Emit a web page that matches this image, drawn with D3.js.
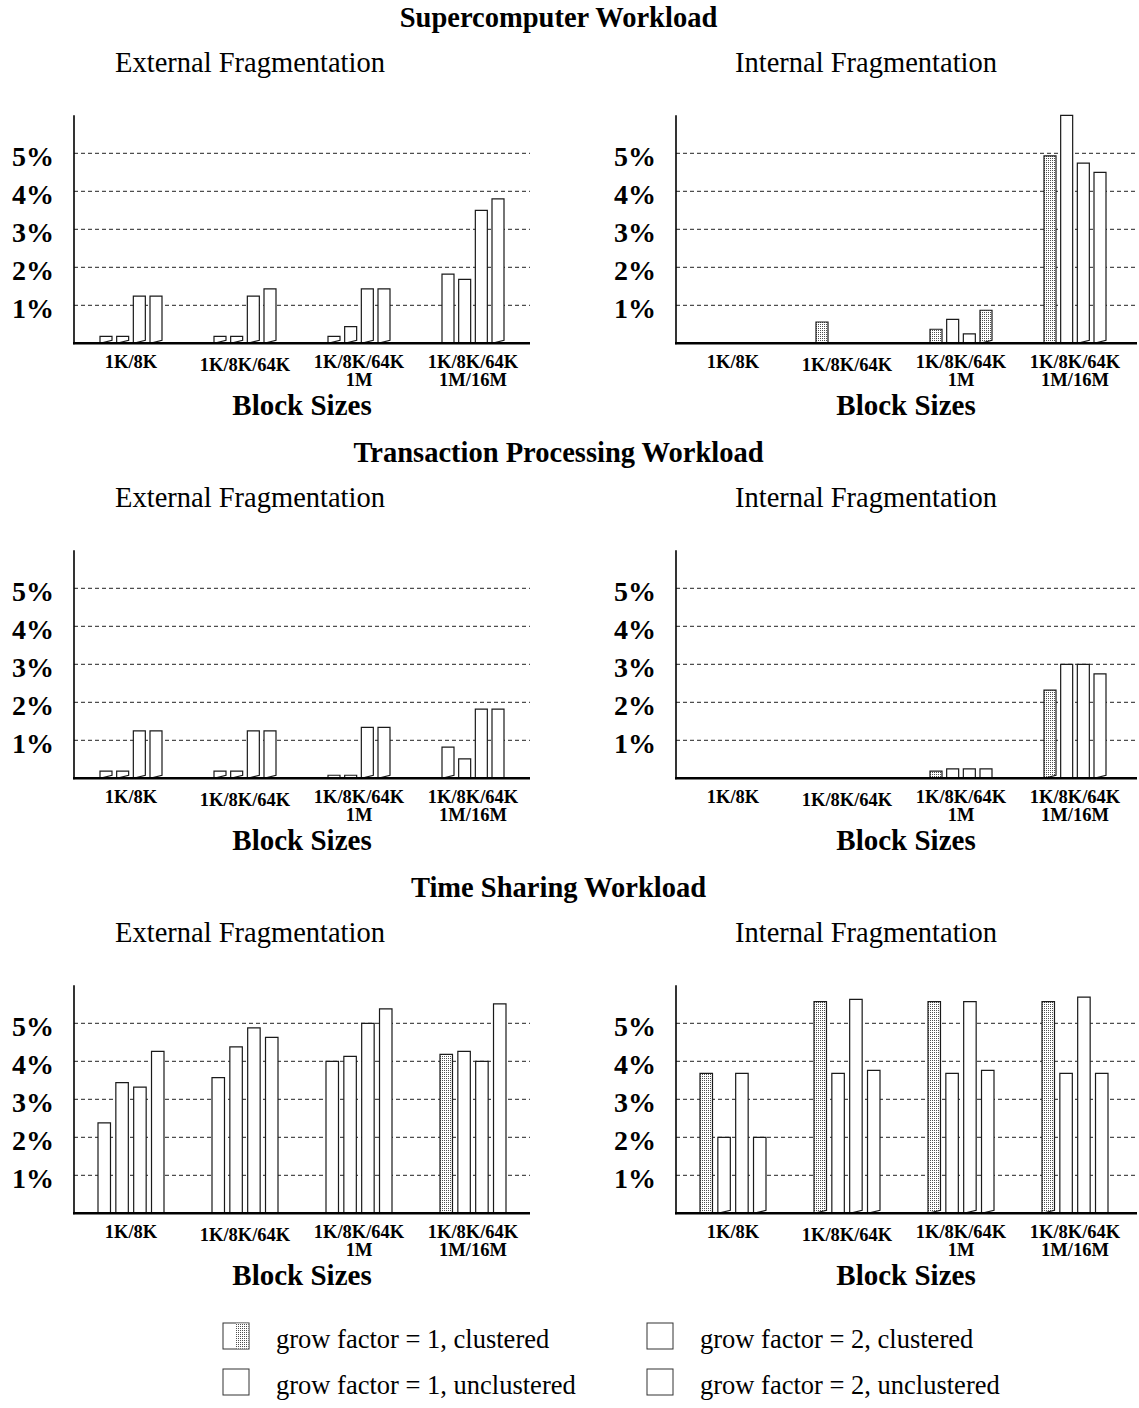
<!DOCTYPE html>
<html><head><meta charset="utf-8">
<script src="https://cdn.jsdelivr.net/npm/d3@7"></script>
<style>body{margin:0;background:#fff} svg{display:block}</style>
</head><body>
<script>
// ---------- data ----------
const categories = [["1K/8K"], ["1K/8K/64K"], ["1K/8K/64K", "1M"], ["1K/8K/64K", "1M/16M"]];
const seriesNames = ["grow factor = 1, clustered", "grow factor = 2, clustered",
                     "grow factor = 1, unclustered", "grow factor = 2, unclustered"];
const yTicks = [1, 2, 3, 4, 5];
const yTickLabels = ["1%", "2%", "3%", "4%", "5%"];
const workloadTitles = ["Supercomputer Workload", "Transaction Processing Workload", "Time Sharing Workload"];
const panelTitles = ["External Fragmentation", "Internal Fragmentation"];
const xAxisTitle = "Block Sizes";

// values in percent, [category][series]
const superExternal = [[0.18, 0.18, 1.24, 1.24], [0.18, 0.18, 1.24, 1.43], [0.18, 0.44, 1.43, 1.43], [1.82, 1.68, 3.50, 3.80]];
const superInternal = [[0, 0, 0, 0], [0.56, 0, 0, 0], [0.37, 0.63, 0.25, 0.87], [4.93, 6.00, 4.74, 4.50]];
const transExternal = [[0.19, 0.19, 1.25, 1.25], [0.19, 0.19, 1.25, 1.25], [0.08, 0.08, 1.34, 1.34], [0.82, 0.51, 1.82, 1.82]];
const transInternal = [[0, 0, 0, 0], [0, 0, 0, 0], [0.19, 0.25, 0.25, 0.25], [2.32, 3.00, 3.00, 2.75]];
const timeExternal  = [[2.38, 3.44, 3.32, 4.26], [3.57, 4.38, 4.88, 4.63], [4.00, 4.13, 5.00, 5.38], [4.18, 4.26, 4.00, 5.51]];
const timeInternal  = [[3.68, 2.00, 3.68, 2.00], [5.57, 3.68, 5.63, 3.76], [5.57, 3.68, 5.57, 3.76], [5.57, 3.68, 5.69, 3.68]];

// ---------- style config (which bars are stippled / have slanted bottoms) ----------
const stippleSpec = [
  [["0000","0000","0000","0000"], ["0000","1000","1001","1000"]],
  [["0000","0000","0000","0000"], ["0000","0000","1000","1000"]],
  [["0000","0000","0000","1000"], ["1000","1000","1000","1000"]]
];
const slantSpec = [
  [["1111","1111","1111","0001"], ["0000","0000","0001","0011"]],
  [["1111","1111","0011","1000"], ["0000","0000","0000","1001"]],
  [["0000","0000","0000","0000"], ["0101","1011","1011","1000"]]
];

const panelData = [[superExternal, superInternal], [transExternal, transInternal], [timeExternal, timeInternal]];

// ---------- drawing ----------
const W = 1139, H = 1408;
const serif = "'Liberation Serif','Times New Roman',Times,serif";
const svg = d3.select("body").append("svg").attr("width", W).attr("height", H)
  .style("font-family", serif);

const defs = svg.append("defs");
const pat = defs.append("pattern").attr("id", "stip").attr("patternUnits", "userSpaceOnUse")
  .attr("width", 2).attr("height", 2);
pat.append("rect").attr("width", 2).attr("height", 2).attr("fill", "#fff");
pat.append("rect").attr("width", 1).attr("height", 1).attr("fill", "#505050");

const rowStep = 435;
const cols = [
  { axisX: 74,  xEnd: 530,  titleX: 250, xTitleX: 302 },
  { axisX: 676, xEnd: 1137, titleX: 866, xTitleX: 906 }
];
const groupSpan = [62, 62, 66];
const catDy = [0, 3, 0, 0];

workloadTitles.forEach((wt, r) => {
  const off = r * rowStep;
  svg.append("text").attr("x", 558.5).attr("y", 27 + off).attr("text-anchor", "middle")
    .attr("font-size", 28.5).attr("font-weight", "bold").text(wt);

  cols.forEach((col, c) => {
    const g = svg.append("g");
    const vals = panelData[r][c];
    const y = d3.scaleLinear().domain([0, 6]).range([343.3 + off, 115.3 + off]);
    const x0 = d3.scaleBand().domain(d3.range(categories.length)).range([col.axisX, col.axisX + 456]);
    const span = groupSpan[r];
    const x1 = d3.scaleBand().domain(d3.range(seriesNames.length)).range([-span / 2, span / 2])
      .paddingInner(r === 2 ? 0.3 : 0.28);

    // panel title
    g.append("text").attr("x", col.titleX).attr("y", 72 + off).attr("text-anchor", "middle")
      .attr("font-size", 28.5).text(panelTitles[c]);

    // gridlines
    g.selectAll(".grid").data(yTicks).enter().append("line")
      .attr("x1", col.axisX).attr("x2", col.xEnd)
      .attr("y1", d => y(d)).attr("y2", d => y(d))
      .attr("stroke", "#222").attr("stroke-width", 1).attr("stroke-dasharray", "4,3");

    // y tick labels through d3 axis
    const yAxis = d3.axisLeft(y).tickValues(yTicks).tickFormat((d, i) => yTickLabels[i])
      .tickSize(0).tickPadding(20);
    const ya = g.append("g").attr("transform", `translate(${col.axisX},0)`).call(yAxis);
    ya.select(".domain").remove();
    ya.selectAll("text").attr("font-family", serif).attr("font-size", 28)
      .attr("font-weight", "bold").attr("fill", "#000").attr("dy", "0.45em");

    // bars
    const bars = [];
    vals.forEach((row, gi) => row.forEach((v, si) => {
      if (v > 0) bars.push({ gi, si, v,
        stip: stippleSpec[r][c][gi][si] === "1",
        slant: slantSpec[r][c][gi][si] === "1" });
    }));
    const base = y(0);
    g.selectAll(".bar").data(bars).enter().append("path")
      .attr("d", d => {
        const xl = x0(d.gi) + x0.bandwidth() / 2 + x1(d.si);
        const xr = xl + x1.bandwidth();
        const top = y(d.v);
        const br = d.slant ? Math.max(top + 1, base - 3) : base;
        return `M${xl},${base}V${top}H${xr}V${br}Z`;
      })
      .attr("fill", d => d.stip ? "url(#stip)" : "#fff")
      .attr("stroke", "#1a1a1a").attr("stroke-width", 1.2).attr("stroke-linejoin", "miter");

    // axes lines
    g.append("line").attr("x1", col.axisX).attr("x2", col.axisX)
      .attr("y1", y(6)).attr("y2", base + 1).attr("stroke", "#000").attr("stroke-width", 1.6);
    g.append("line").attr("x1", col.axisX - 1).attr("x2", col.xEnd)
      .attr("y1", base).attr("y2", base).attr("stroke", "#000").attr("stroke-width", 2.4);

    // category labels
    const cl = g.selectAll(".cat").data(categories).enter().append("text")
      .attr("text-anchor", "middle").attr("font-size", 18.5).attr("font-weight", "bold")
      .attr("x", (d, i) => x0(i) + x0.bandwidth() / 2)
      .attr("y", (d, i) => base + 25 + catDy[i]);
    cl.selectAll("tspan").data((d, i) => d.map(t => ({ t, i }))).enter().append("tspan")
      .attr("x", d => x0(d.i) + x0.bandwidth() / 2)
      .attr("dy", (d, j) => j === 0 ? 0 : 18)
      .text(d => d.t);

    // x-axis title
    g.append("text").attr("x", col.xTitleX).attr("y", 415 + off)
      .attr("text-anchor", "middle").attr("font-size", 29).attr("font-weight", "bold").text(xAxisTitle);
  });
});

// legend
const legendPos = [[223, 1323], [647, 1323], [223, 1369], [647, 1369]];
const lg = svg.append("g");
seriesNames.forEach((name, i) => {
  const [lx, ly] = legendPos[i];
  lg.append("rect").attr("x", lx).attr("y", ly).attr("width", 26).attr("height", 26)
    .attr("fill", "#fff").attr("stroke", "#333").attr("stroke-width", 1);
  if (i === 0) {
    lg.append("rect").attr("x", lx + 13).attr("y", ly + 0.5).attr("width", 12.5).attr("height", 25)
      .attr("fill", "url(#stip)");
  }
  lg.append("text").attr("x", lx + 53).attr("y", ly + 25).attr("font-size", 26.5).text(name);
});
</script>
</body></html>
